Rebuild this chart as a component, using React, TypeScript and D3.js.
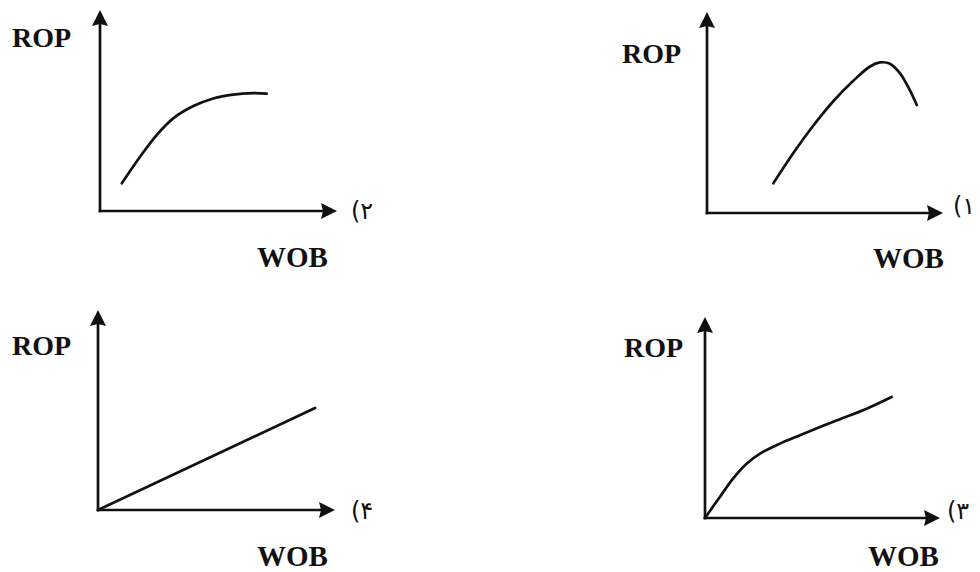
import React from "react";
import * as d3 from "d3";

// Curve data (WOB, ROP) in relative units 0..100 for each panel
const panel1Wob = [28.1, 36.6, 45.0, 53.5, 62.0, 69.1, 73.3, 77.5, 81.8, 86.0, 88.9];
const panel1Rop = [14.8, 29.9, 43.4, 55.6, 65.8, 72.9, 74.9, 74.3, 69.5, 61.0, 53.7];

const panel2Wob = [9.2, 16.9, 23.9, 30.9, 39.4, 47.8, 56.2, 64.7, 70.3];
const panel2Rop = [13.8, 27.0, 37.8, 46.1, 52.2, 56.0, 57.9, 58.6, 58.4];

const panel3Wob = [0, 6.4, 12.0, 17.7, 23.4, 31.9, 40.4, 54.6, 68.8, 79.4];
const panel3Rop = [0, 10.6, 19.7, 27.0, 32.0, 37.0, 41.2, 47.9, 54.4, 60.2];

const panel4Wob = [0, 91.6];
const panel4Rop = [0, 51];

const xTitle = "WOB";
const yTitle = "ROP";
const panelLabels = ["(۱", "(۲", "(۳", "(۴"];

type Panel = {
  wob: number[];
  rop: number[];
  label: string;
  ox: number; oy: number; w: number; h: number;
  rop_x: number; rop_y: number;
  wob_x: number; wob_y: number;
  lab_x: number; lab_y: number;
};

const panels: Panel[] = [
  { wob: panel1Wob, rop: panel1Rop, label: panelLabels[0], ox: 707, oy: 213, w: 236, h: 201, rop_x: 622, rop_y: 63, wob_x: 873, wob_y: 268, lab_x: 953, lab_y: 214 },
  { wob: panel2Wob, rop: panel2Rop, label: panelLabels[1], ox: 100, oy: 211, w: 237, h: 201, rop_x: 12, rop_y: 47, wob_x: 257, wob_y: 267, lab_x: 351, lab_y: 219 },
  { wob: panel3Wob, rop: panel3Rop, label: panelLabels[2], ox: 705, oy: 518, w: 235, h: 201, rop_x: 624, rop_y: 357, wob_x: 868, wob_y: 566, lab_x: 947, lab_y: 519 },
  { wob: panel4Wob, rop: panel4Rop, label: panelLabels[3], ox: 98, oy: 510, w: 237, h: 200, rop_x: 12, rop_y: 355, wob_x: 257, wob_y: 566, lab_x: 351, lab_y: 519 },
];

const font = "'Liberation Serif', 'Times New Roman', serif";
const ink = "#111";

function PanelView({ p }: { p: Panel }) {
  const x = d3.scaleLinear().domain([0, 100]).range([p.ox, p.ox + p.w]);
  const y = d3.scaleLinear().domain([0, 100]).range([p.oy, p.oy - p.h]);
  const pts: [number, number][] = p.wob.map((v, i) => [v, p.rop[i]]);
  const line = d3
    .line<[number, number]>()
    .x((d) => x(d[0]))
    .y((d) => y(d[1]))
    .curve(d3.curveCatmullRom.alpha(0.5));
  const tipX = x(100);
  const tipY = y(100);
  const al = 16;
  const aw = 8;
  const notch = 2;
  return (
    <g>
      <line x1={x(0)} y1={y(0) + 1.3} x2={x(0)} y2={tipY + al - 3} stroke={ink} strokeWidth={2.7} />
      <line x1={x(0) - 1.3} y1={y(0)} x2={tipX - al + 3} y2={y(0)} stroke={ink} strokeWidth={2.7} />
      <path d={`M${x(0)},${tipY} L${x(0) + aw},${tipY + al} L${x(0)},${tipY + al - notch} L${x(0) - aw},${tipY + al} Z`} fill={ink} />
      <path d={`M${tipX},${y(0)} L${tipX - al},${y(0) - aw} L${tipX - al + notch},${y(0)} L${tipX - al},${y(0) + aw} Z`} fill={ink} />
      <path d={line(pts) || ""} fill="none" stroke={ink} strokeWidth={2.7} strokeLinecap="round" strokeLinejoin="round" />
      <text x={p.rop_x} y={p.rop_y} fontFamily={font} fontWeight="bold" fontSize={28} fill={ink}>{yTitle}</text>
      <text x={p.wob_x} y={p.wob_y} fontFamily={font} fontWeight="bold" fontSize={29} fill={ink}>{xTitle}</text>
      <text x={p.lab_x} y={p.lab_y} fontFamily={"'DejaVu Sans', 'Noto Sans', sans-serif"} fontSize={24} fill={ink}>{p.label}</text>
    </g>
  );
}

export default function App() {
  return (
    <svg
      width={980}
      height={572}
      viewBox="0 0 980 572"
      style={{ position: "absolute", left: 0, top: 0, background: "#fff" }}
    >
      <rect x={0} y={0} width={980} height={572} fill="#fff" />
      {panels.map((p, i) => (
        <PanelView key={i} p={p} />
      ))}
    </svg>
  );
}
